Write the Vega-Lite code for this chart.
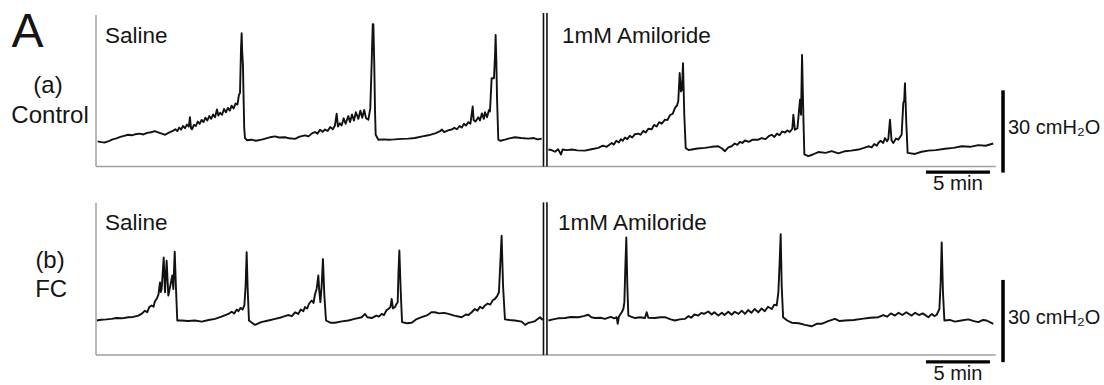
{
"$schema": "https://vega.github.io/schema/vega-lite/v6.json",
"width": 1104, "height": 385,
"autosize": {"type": "fit", "contains": "padding"},
"padding": 0,
"background": "white",
"config": {"view": {"stroke": null}, "text": {"font": "Liberation Sans", "color": "#151515"}},
"datasets": {
"ctrl_s": [{"t":0.13,"p":9.2},{"t":0.4,"p":8.9},{"t":0.7,"p":8.8},{"t":1.0,"p":9.3},{"t":1.3,"p":9.9},{"t":1.6,"p":10.3},{"t":1.9,"p":10.8},{"t":2.2,"p":11.2},{"t":2.5,"p":11.6},{"t":2.8,"p":11.4},{"t":3.1,"p":11.8},{"t":3.4,"p":12.0},{"t":3.7,"p":11.7},{"t":4.0,"p":12.3},{"t":4.3,"p":12.5},{"t":4.6,"p":12.9},{"t":4.9,"p":12.4},{"t":5.2,"p":11.9},{"t":5.4,"p":11.6},{"t":5.7,"p":12.4},{"t":6.0,"p":13.0},{"t":6.2,"p":13.6},{"t":6.35,"p":12.9},{"t":6.5,"p":14.2},{"t":6.65,"p":13.5},{"t":6.8,"p":14.8},{"t":6.95,"p":14.0},{"t":7.1,"p":15.3},{"t":7.25,"p":14.6},{"t":7.34,"p":18.0},{"t":7.42,"p":14.0},{"t":7.5,"p":13.6},{"t":7.65,"p":15.2},{"t":7.8,"p":14.8},{"t":7.95,"p":16.4},{"t":8.1,"p":15.6},{"t":8.25,"p":17.0},{"t":8.4,"p":16.2},{"t":8.55,"p":17.8},{"t":8.7,"p":16.8},{"t":8.85,"p":18.4},{"t":9.0,"p":17.4},{"t":9.15,"p":19.0},{"t":9.3,"p":18.0},{"t":9.45,"p":20.8},{"t":9.56,"p":18.6},{"t":9.7,"p":19.6},{"t":9.85,"p":18.9},{"t":10.0,"p":21.0},{"t":10.15,"p":19.8},{"t":10.3,"p":21.4},{"t":10.45,"p":20.4},{"t":10.6,"p":22.2},{"t":10.75,"p":21.2},{"t":10.9,"p":23.0},{"t":11.05,"p":22.6},{"t":11.17,"p":26.2},{"t":11.25,"p":26.8},{"t":11.33,"p":43.2},{"t":11.38,"p":48.6},{"t":11.42,"p":42.0},{"t":11.48,"p":37.0},{"t":11.53,"p":25.0},{"t":11.58,"p":14.0},{"t":11.64,"p":10.4},{"t":11.8,"p":9.6},{"t":12.16,"p":9.8},{"t":12.5,"p":9.4},{"t":12.94,"p":9.8},{"t":13.3,"p":10.3},{"t":13.7,"p":10.8},{"t":13.98,"p":11.0},{"t":14.3,"p":10.6},{"t":14.77,"p":10.7},{"t":15.1,"p":10.3},{"t":15.55,"p":10.1},{"t":15.9,"p":10.9},{"t":16.33,"p":11.4},{"t":16.6,"p":11.0},{"t":16.9,"p":12.2},{"t":17.11,"p":12.6},{"t":17.3,"p":12.0},{"t":17.5,"p":13.4},{"t":17.7,"p":12.7},{"t":17.89,"p":13.5},{"t":18.1,"p":13.0},{"t":18.3,"p":14.4},{"t":18.5,"p":13.6},{"t":18.67,"p":15.0},{"t":18.8,"p":19.3},{"t":18.9,"p":14.6},{"t":19.05,"p":15.8},{"t":19.19,"p":15.0},{"t":19.35,"p":17.6},{"t":19.5,"p":15.6},{"t":19.71,"p":18.4},{"t":19.85,"p":16.2},{"t":20.0,"p":19.0},{"t":20.15,"p":16.8},{"t":20.3,"p":19.8},{"t":20.5,"p":17.4},{"t":20.65,"p":20.4},{"t":20.8,"p":17.8},{"t":20.95,"p":20.6},{"t":21.1,"p":17.6},{"t":21.28,"p":17.1},{"t":21.43,"p":21.3},{"t":21.54,"p":38.3},{"t":21.62,"p":51.9},{"t":21.67,"p":51.9},{"t":21.74,"p":37.1},{"t":21.8,"p":20.0},{"t":21.85,"p":11.6},{"t":22.06,"p":9.8},{"t":22.5,"p":9.9},{"t":22.84,"p":9.8},{"t":23.3,"p":9.9},{"t":23.88,"p":10.1},{"t":24.4,"p":10.2},{"t":24.92,"p":10.4},{"t":25.4,"p":10.9},{"t":25.96,"p":11.4},{"t":26.5,"p":12.1},{"t":26.9,"p":12.9},{"t":27.01,"p":13.5},{"t":27.2,"p":12.6},{"t":27.5,"p":13.2},{"t":27.79,"p":13.5},{"t":28.0,"p":14.1},{"t":28.2,"p":13.6},{"t":28.4,"p":14.8},{"t":28.57,"p":14.2},{"t":28.75,"p":15.6},{"t":28.9,"p":14.9},{"t":29.09,"p":16.2},{"t":29.25,"p":15.6},{"t":29.43,"p":21.9},{"t":29.5,"p":17.0},{"t":29.65,"p":16.4},{"t":29.87,"p":18.0},{"t":30.0,"p":16.8},{"t":30.15,"p":19.4},{"t":30.3,"p":17.4},{"t":30.39,"p":19.8},{"t":30.55,"p":18.0},{"t":30.7,"p":20.6},{"t":30.78,"p":20.1},{"t":30.91,"p":32.2},{"t":31.09,"p":32.2},{"t":31.17,"p":40.0},{"t":31.22,"p":48.0},{"t":31.28,"p":38.0},{"t":31.33,"p":25.0},{"t":31.43,"p":9.8},{"t":31.6,"p":9.4},{"t":31.95,"p":9.8},{"t":32.3,"p":10.3},{"t":32.73,"p":10.7},{"t":33.2,"p":10.4},{"t":33.78,"p":10.2},{"t":34.2,"p":10.4},{"t":34.5,"p":9.9},{"t":34.82,"p":10.2}],
"ctrl_a": [{"t":35.34,"p":6.2},{"t":35.6,"p":6.0},{"t":35.86,"p":5.4},{"t":36.1,"p":6.3},{"t":36.33,"p":4.4},{"t":36.45,"p":6.2},{"t":36.8,"p":6.0},{"t":37.16,"p":6.2},{"t":37.6,"p":5.9},{"t":38.2,"p":5.8},{"t":38.7,"p":6.3},{"t":39.24,"p":6.8},{"t":39.6,"p":7.6},{"t":39.9,"p":7.2},{"t":40.29,"p":8.6},{"t":40.45,"p":8.0},{"t":40.65,"p":9.4},{"t":40.85,"p":8.8},{"t":41.0,"p":10.0},{"t":41.15,"p":9.4},{"t":41.33,"p":10.6},{"t":41.5,"p":10.0},{"t":41.7,"p":11.2},{"t":41.9,"p":10.6},{"t":42.1,"p":11.8},{"t":42.37,"p":12.0},{"t":42.55,"p":11.6},{"t":42.75,"p":13.0},{"t":42.95,"p":12.4},{"t":43.15,"p":13.8},{"t":43.41,"p":13.6},{"t":43.6,"p":15.2},{"t":43.8,"p":14.6},{"t":44.0,"p":16.2},{"t":44.2,"p":15.6},{"t":44.45,"p":17.1},{"t":44.65,"p":17.0},{"t":44.85,"p":18.8},{"t":45.05,"p":19.2},{"t":45.23,"p":21.3},{"t":45.4,"p":22.4},{"t":45.49,"p":23.8},{"t":45.6,"p":34.1},{"t":45.7,"p":27.4},{"t":45.78,"p":28.0},{"t":45.86,"p":37.7},{"t":45.96,"p":18.9},{"t":46.07,"p":6.8},{"t":46.3,"p":6.0},{"t":46.54,"p":6.2},{"t":47.0,"p":6.6},{"t":47.58,"p":6.8},{"t":48.1,"p":7.2},{"t":48.62,"p":7.4},{"t":48.9,"p":6.6},{"t":49.14,"p":5.6},{"t":49.4,"p":7.0},{"t":49.66,"p":7.4},{"t":49.9,"p":8.4},{"t":50.1,"p":7.9},{"t":50.3,"p":9.0},{"t":50.5,"p":8.6},{"t":50.7,"p":9.5},{"t":51.0,"p":9.0},{"t":51.3,"p":9.8},{"t":51.74,"p":9.8},{"t":52.0,"p":10.4},{"t":52.3,"p":10.0},{"t":52.6,"p":11.2},{"t":52.79,"p":11.6},{"t":53.0,"p":10.8},{"t":53.2,"p":12.0},{"t":53.4,"p":11.4},{"t":53.6,"p":12.8},{"t":53.83,"p":12.4},{"t":54.0,"p":13.2},{"t":54.2,"p":12.6},{"t":54.4,"p":13.8},{"t":54.48,"p":18.9},{"t":54.6,"p":13.4},{"t":54.8,"p":14.0},{"t":55.0,"p":24.4},{"t":55.08,"p":18.9},{"t":55.16,"p":40.7},{"t":55.26,"p":18.9},{"t":55.34,"p":4.4},{"t":55.65,"p":3.8},{"t":56.0,"p":4.4},{"t":56.43,"p":5.3},{"t":57.0,"p":5.0},{"t":57.47,"p":5.6},{"t":58.0,"p":4.8},{"t":58.52,"p":5.6},{"t":59.0,"p":5.8},{"t":59.56,"p":6.2},{"t":60.0,"p":6.8},{"t":60.34,"p":7.4},{"t":60.6,"p":7.0},{"t":60.8,"p":8.2},{"t":61.0,"p":7.6},{"t":61.12,"p":8.6},{"t":61.3,"p":9.4},{"t":61.5,"p":8.6},{"t":61.64,"p":10.4},{"t":61.8,"p":9.2},{"t":61.9,"p":10.0},{"t":62.03,"p":17.1},{"t":62.15,"p":9.6},{"t":62.29,"p":8.6},{"t":62.5,"p":10.2},{"t":62.68,"p":9.8},{"t":62.85,"p":11.0},{"t":62.94,"p":11.6},{"t":63.07,"p":23.2},{"t":63.14,"p":24.0},{"t":63.2,"p":30.4},{"t":63.31,"p":15.3},{"t":63.41,"p":5.0},{"t":63.98,"p":4.6},{"t":64.5,"p":5.4},{"t":65.03,"p":5.8},{"t":65.6,"p":6.0},{"t":66.33,"p":6.5},{"t":67.0,"p":6.8},{"t":67.63,"p":7.4},{"t":68.3,"p":7.2},{"t":68.93,"p":7.8},{"t":69.5,"p":7.6},{"t":70.1,"p":8.4}],
"fc_s": [{"t":0.05,"p":12.6},{"t":0.4,"p":12.9},{"t":0.8,"p":13.0},{"t":1.22,"p":13.2},{"t":1.6,"p":13.5},{"t":2.0,"p":13.4},{"t":2.53,"p":13.8},{"t":2.9,"p":13.9},{"t":3.31,"p":14.4},{"t":3.55,"p":15.0},{"t":3.83,"p":16.2},{"t":4.0,"p":15.6},{"t":4.15,"p":17.4},{"t":4.35,"p":18.1},{"t":4.5,"p":17.6},{"t":4.6,"p":19.6},{"t":4.74,"p":20.5},{"t":4.88,"p":22.0},{"t":5.0,"p":26.5},{"t":5.06,"p":23.0},{"t":5.13,"p":24.1},{"t":5.29,"p":35.6},{"t":5.39,"p":22.9},{"t":5.52,"p":34.4},{"t":5.65,"p":21.7},{"t":5.78,"p":24.7},{"t":5.96,"p":29.0},{"t":6.04,"p":24.1},{"t":6.15,"p":37.7},{"t":6.25,"p":24.1},{"t":6.35,"p":12.6},{"t":6.69,"p":12.6},{"t":7.2,"p":12.4},{"t":7.73,"p":12.6},{"t":8.26,"p":12.2},{"t":8.8,"p":12.8},{"t":9.3,"p":13.2},{"t":9.8,"p":14.0},{"t":10.1,"p":14.6},{"t":10.34,"p":15.0},{"t":10.6,"p":15.8},{"t":10.8,"p":15.2},{"t":11.0,"p":16.6},{"t":11.12,"p":16.0},{"t":11.3,"p":17.2},{"t":11.45,"p":16.6},{"t":11.59,"p":18.1},{"t":11.69,"p":25.3},{"t":11.77,"p":37.5},{"t":11.85,"p":24.1},{"t":11.95,"p":12.6},{"t":12.42,"p":11.0},{"t":12.9,"p":12.0},{"t":13.46,"p":12.6},{"t":14.0,"p":13.2},{"t":14.51,"p":13.8},{"t":15.0,"p":14.6},{"t":15.3,"p":14.2},{"t":15.55,"p":15.6},{"t":15.8,"p":15.0},{"t":16.0,"p":16.6},{"t":16.2,"p":16.0},{"t":16.33,"p":17.5},{"t":16.5,"p":17.0},{"t":16.65,"p":18.8},{"t":16.85,"p":19.9},{"t":17.0,"p":19.0},{"t":17.1,"p":22.0},{"t":17.24,"p":24.1},{"t":17.37,"p":29.0},{"t":17.45,"p":23.0},{"t":17.53,"p":19.3},{"t":17.63,"p":25.3},{"t":17.73,"p":35.0},{"t":17.84,"p":21.7},{"t":17.97,"p":12.6},{"t":18.3,"p":11.8},{"t":18.67,"p":11.8},{"t":19.2,"p":12.3},{"t":19.71,"p":12.6},{"t":20.2,"p":13.2},{"t":20.76,"p":13.8},{"t":21.02,"p":15.0},{"t":21.2,"p":13.8},{"t":21.54,"p":13.5},{"t":21.9,"p":14.4},{"t":22.1,"p":14.0},{"t":22.32,"p":15.0},{"t":22.5,"p":14.6},{"t":22.7,"p":16.4},{"t":22.84,"p":16.8},{"t":23.0,"p":17.4},{"t":23.1,"p":20.5},{"t":23.2,"p":17.0},{"t":23.36,"p":17.5},{"t":23.45,"p":18.4},{"t":23.57,"p":19.3},{"t":23.63,"p":30.0},{"t":23.7,"p":38.1},{"t":23.8,"p":24.1},{"t":23.91,"p":12.0},{"t":24.3,"p":11.6},{"t":24.66,"p":11.8},{"t":25.0,"p":13.0},{"t":25.44,"p":13.8},{"t":25.9,"p":14.6},{"t":26.2,"p":15.6},{"t":26.48,"p":15.6},{"t":26.8,"p":15.2},{"t":27.2,"p":15.4},{"t":27.53,"p":15.0},{"t":28.0,"p":14.4},{"t":28.57,"p":13.8},{"t":28.9,"p":14.8},{"t":29.1,"p":14.6},{"t":29.35,"p":15.6},{"t":29.6,"p":16.8},{"t":29.8,"p":16.2},{"t":30.0,"p":17.6},{"t":30.2,"p":17.0},{"t":30.39,"p":18.1},{"t":30.6,"p":18.8},{"t":30.8,"p":18.4},{"t":31.0,"p":20.0},{"t":31.17,"p":20.5},{"t":31.35,"p":21.6},{"t":31.48,"p":22.9},{"t":31.59,"p":33.8},{"t":31.69,"p":43.5},{"t":31.8,"p":25.3},{"t":31.95,"p":13.0},{"t":32.3,"p":12.8},{"t":32.73,"p":12.6},{"t":33.26,"p":12.2},{"t":33.52,"p":11.0},{"t":33.8,"p":11.8},{"t":34.04,"p":12.0},{"t":34.3,"p":12.4},{"t":34.69,"p":13.8},{"t":34.9,"p":12.8}],
"fc_a": [{"t":35.34,"p":12.6},{"t":35.7,"p":13.0},{"t":36.1,"p":13.4},{"t":36.64,"p":13.5},{"t":37.1,"p":13.9},{"t":37.68,"p":13.8},{"t":38.1,"p":14.2},{"t":38.46,"p":14.7},{"t":38.7,"p":13.8},{"t":38.98,"p":13.5},{"t":39.4,"p":13.6},{"t":39.77,"p":13.2},{"t":40.2,"p":13.9},{"t":40.5,"p":13.4},{"t":40.68,"p":13.8},{"t":40.76,"p":11.4},{"t":40.85,"p":14.0},{"t":41.07,"p":15.6},{"t":41.2,"p":16.8},{"t":41.28,"p":19.3},{"t":41.35,"p":31.4},{"t":41.43,"p":42.9},{"t":41.51,"p":25.3},{"t":41.59,"p":14.4},{"t":42.11,"p":13.5},{"t":42.5,"p":13.8},{"t":42.89,"p":13.5},{"t":43.02,"p":15.6},{"t":43.15,"p":13.6},{"t":43.67,"p":13.5},{"t":44.1,"p":13.8},{"t":44.45,"p":13.8},{"t":44.9,"p":13.0},{"t":45.23,"p":12.6},{"t":45.6,"p":13.0},{"t":46.02,"p":13.2},{"t":46.3,"p":14.2},{"t":46.5,"p":13.6},{"t":46.75,"p":14.8},{"t":47.06,"p":14.4},{"t":47.3,"p":15.4},{"t":47.5,"p":15.0},{"t":47.84,"p":15.9},{"t":48.1,"p":14.8},{"t":48.3,"p":15.6},{"t":48.62,"p":14.4},{"t":48.9,"p":15.4},{"t":49.1,"p":14.6},{"t":49.4,"p":15.8},{"t":49.66,"p":14.7},{"t":49.9,"p":15.8},{"t":50.2,"p":15.0},{"t":50.45,"p":16.2},{"t":50.7,"p":15.0},{"t":50.95,"p":16.4},{"t":51.2,"p":15.4},{"t":51.45,"p":16.8},{"t":51.74,"p":15.6},{"t":52.0,"p":17.0},{"t":52.25,"p":16.0},{"t":52.5,"p":17.6},{"t":52.79,"p":16.8},{"t":53.0,"p":18.4},{"t":53.18,"p":18.1},{"t":53.31,"p":22.9},{"t":53.41,"p":33.8},{"t":53.49,"p":44.1},{"t":53.57,"p":25.3},{"t":53.68,"p":13.8},{"t":54.0,"p":12.6},{"t":54.35,"p":11.8},{"t":54.9,"p":11.6},{"t":55.39,"p":11.0},{"t":55.91,"p":10.5},{"t":56.3,"p":11.4},{"t":56.69,"p":11.4},{"t":57.2,"p":12.4},{"t":57.73,"p":13.2},{"t":58.1,"p":12.4},{"t":58.52,"p":12.6},{"t":59.2,"p":12.8},{"t":59.82,"p":13.2},{"t":60.5,"p":13.6},{"t":61.12,"p":13.8},{"t":61.5,"p":14.6},{"t":61.8,"p":14.0},{"t":62.1,"p":15.2},{"t":62.42,"p":14.4},{"t":62.7,"p":15.4},{"t":63.0,"p":14.6},{"t":63.3,"p":15.6},{"t":63.72,"p":14.4},{"t":64.0,"p":15.4},{"t":64.3,"p":14.6},{"t":64.6,"p":15.2},{"t":65.03,"p":13.8},{"t":65.3,"p":15.0},{"t":65.5,"p":14.2},{"t":65.68,"p":14.7},{"t":65.89,"p":16.8},{"t":65.99,"p":26.5},{"t":66.07,"p":41.1},{"t":66.17,"p":22.9},{"t":66.28,"p":12.6},{"t":66.7,"p":12.8},{"t":67.11,"p":12.2},{"t":67.6,"p":12.6},{"t":68.15,"p":13.0},{"t":68.6,"p":12.4},{"t":68.93,"p":12.0},{"t":69.3,"p":12.8},{"t":69.58,"p":12.6},{"t":70.1,"p":11.4}]
},
"layer": [
{
"layer": [
{"data": {"name": "ctrl_s"}, "mark": {"type": "line", "color": "#111", "strokeWidth": 1.9, "strokeJoin": "round"},
 "encoding": {"x": {"field": "t", "type": "quantitative", "axis": null, "scale": {"domain": [-7.5, 78.75], "nice": false, "zero": false}},
              "y": {"field": "p", "type": "quantitative", "axis": null, "scale": {"domain": [-79.273, 60.727], "nice": false, "zero": false}}}},
{"data": {"name": "ctrl_a"}, "mark": {"type": "line", "color": "#111", "strokeWidth": 1.9, "strokeJoin": "round"},
 "encoding": {"x": {"field": "t", "type": "quantitative", "axis": null}, "y": {"field": "p", "type": "quantitative", "axis": null}}},
{"data": {"values": [{}]}, "mark": {"type": "rule", "color": "#a0a0a0", "strokeWidth": 1.5},
 "encoding": {"x": {"datum": 0, "axis": null}, "y": {"datum": 0, "axis": null}, "y2": {"datum": 55.3}}},
{"data": {"values": [{}]}, "mark": {"type": "rule", "color": "#a0a0a0", "strokeWidth": 1.5},
 "encoding": {"x": {"datum": 0, "axis": null}, "x2": {"datum": 70.3}, "y": {"datum": 0, "axis": null}}},
{"data": {"values": [{}]}, "mark": {"type": "rule", "color": "#111", "strokeWidth": 1.6},
 "encoding": {"x": {"datum": 34.96, "axis": null}, "y": {"datum": 0, "axis": null}, "y2": {"datum": 56}}},
{"data": {"values": [{}]}, "mark": {"type": "rule", "color": "#111", "strokeWidth": 1.6},
 "encoding": {"x": {"datum": 35.23, "axis": null}, "y": {"datum": 0, "axis": null}, "y2": {"datum": 56}}},
{"data": {"values": [{}]}, "mark": {"type": "rule", "color": "#000", "strokeWidth": 3.5},
 "encoding": {"x": {"datum": 70.86, "axis": null}, "y": {"datum": -2.2, "axis": null}, "y2": {"datum": 27.8}}},
{"data": {"values": [{}]}, "mark": {"type": "rule", "color": "#000", "strokeWidth": 3.3},
 "encoding": {"x": {"datum": 64.84, "axis": null}, "x2": {"datum": 69.84}, "y": {"datum": -2.0, "axis": null}}},
{"data": {"values": [{}]}, "mark": {"type": "text", "text": "A", "align": "left", "baseline": "alphabetic", "fontSize": 48},
 "encoding": {"x": {"datum": -6.6, "axis": null}, "y": {"datum": 43.6, "axis": null}}},
{"data": {"values": [{}]}, "mark": {"type": "text", "text": "(a)", "align": "center", "baseline": "alphabetic", "fontSize": 24},
 "encoding": {"x": {"datum": -3.75, "axis": null}, "y": {"datum": 26.9, "axis": null}}},
{"data": {"values": [{}]}, "mark": {"type": "text", "text": "Control", "align": "center", "baseline": "alphabetic", "fontSize": 24},
 "encoding": {"x": {"datum": -3.59, "axis": null}, "y": {"datum": 16.0, "axis": null}}},
{"data": {"values": [{}]}, "mark": {"type": "text", "text": "Saline", "align": "left", "baseline": "alphabetic", "fontSize": 22.5},
 "encoding": {"x": {"datum": 0.7, "axis": null}, "y": {"datum": 45.1, "axis": null}}},
{"data": {"values": [{}]}, "mark": {"type": "text", "text": "1mM Amiloride", "align": "left", "baseline": "alphabetic", "fontSize": 22.5},
 "encoding": {"x": {"datum": 36.4, "axis": null}, "y": {"datum": 45.1, "axis": null}}},
{"data": {"values": [{}]}, "mark": {"type": "text", "text": "30 cmH₂O", "align": "left", "baseline": "alphabetic", "fontSize": 20},
 "encoding": {"x": {"datum": 71.25, "axis": null}, "y": {"datum": 11.8, "axis": null}}},
{"data": {"values": [{}]}, "mark": {"type": "text", "text": "5 min", "align": "center", "baseline": "alphabetic", "fontSize": 20.5},
 "encoding": {"x": {"datum": 67.34, "axis": null}, "y": {"datum": -8.7, "axis": null}}}
]
},
{
"layer": [
{"data": {"name": "fc_s"}, "mark": {"type": "line", "color": "#111", "strokeWidth": 1.9, "strokeJoin": "round"},
 "encoding": {"x": {"field": "t", "type": "quantitative", "axis": null, "scale": {"domain": [-7.5, 78.75], "nice": false, "zero": false}},
              "y": {"field": "p", "type": "quantitative", "axis": null, "scale": {"domain": [-10.5455, 129.4545], "nice": false, "zero": false}}}},
{"data": {"name": "fc_a"}, "mark": {"type": "line", "color": "#111", "strokeWidth": 1.9, "strokeJoin": "round"},
 "encoding": {"x": {"field": "t", "type": "quantitative", "axis": null}, "y": {"field": "p", "type": "quantitative", "axis": null}}},
{"data": {"values": [{}]}, "mark": {"type": "rule", "color": "#a0a0a0", "strokeWidth": 1.5},
 "encoding": {"x": {"datum": 0, "axis": null}, "y": {"datum": 0, "axis": null}, "y2": {"datum": 55.5}}},
{"data": {"values": [{}]}, "mark": {"type": "rule", "color": "#a0a0a0", "strokeWidth": 1.5},
 "encoding": {"x": {"datum": 0, "axis": null}, "x2": {"datum": 70.3}, "y": {"datum": 0, "axis": null}}},
{"data": {"values": [{}]}, "mark": {"type": "rule", "color": "#111", "strokeWidth": 1.6},
 "encoding": {"x": {"datum": 34.96, "axis": null}, "y": {"datum": 0, "axis": null}, "y2": {"datum": 55.7}}},
{"data": {"values": [{}]}, "mark": {"type": "rule", "color": "#111", "strokeWidth": 1.6},
 "encoding": {"x": {"datum": 35.23, "axis": null}, "y": {"datum": 0, "axis": null}, "y2": {"datum": 55.7}}},
{"data": {"values": [{}]}, "mark": {"type": "rule", "color": "#000", "strokeWidth": 3.5},
 "encoding": {"x": {"datum": 70.86, "axis": null}, "y": {"datum": -2.6, "axis": null}, "y2": {"datum": 27.4}}},
{"data": {"values": [{}]}, "mark": {"type": "rule", "color": "#000", "strokeWidth": 3.3},
 "encoding": {"x": {"datum": 64.84, "axis": null}, "x2": {"datum": 69.84}, "y": {"datum": -2.5, "axis": null}}},
{"data": {"values": [{}]}, "mark": {"type": "text", "text": "(b)", "align": "center", "baseline": "alphabetic", "fontSize": 24},
 "encoding": {"x": {"datum": -3.59, "axis": null}, "y": {"datum": 31.6, "axis": null}}},
{"data": {"values": [{}]}, "mark": {"type": "text", "text": "FC", "align": "center", "baseline": "alphabetic", "fontSize": 24},
 "encoding": {"x": {"datum": -3.5, "axis": null}, "y": {"datum": 21.1, "axis": null}}},
{"data": {"values": [{}]}, "mark": {"type": "text", "text": "Saline", "align": "left", "baseline": "alphabetic", "fontSize": 22.5},
 "encoding": {"x": {"datum": 0.7, "axis": null}, "y": {"datum": 45.5, "axis": null}}},
{"data": {"values": [{}]}, "mark": {"type": "text", "text": "1mM Amiloride", "align": "left", "baseline": "alphabetic", "fontSize": 22.5},
 "encoding": {"x": {"datum": 36.1, "axis": null}, "y": {"datum": 45.5, "axis": null}}},
{"data": {"values": [{}]}, "mark": {"type": "text", "text": "30 cmH₂O", "align": "left", "baseline": "alphabetic", "fontSize": 20},
 "encoding": {"x": {"datum": 71.25, "axis": null}, "y": {"datum": 11.3, "axis": null}}},
{"data": {"values": [{}]}, "mark": {"type": "text", "text": "5 min", "align": "center", "baseline": "alphabetic", "fontSize": 20},
 "encoding": {"x": {"datum": 67.34, "axis": null}, "y": {"datum": -9.1, "axis": null}}}
]
}
],
"resolve": {"scale": {"y": "independent"}}
}
